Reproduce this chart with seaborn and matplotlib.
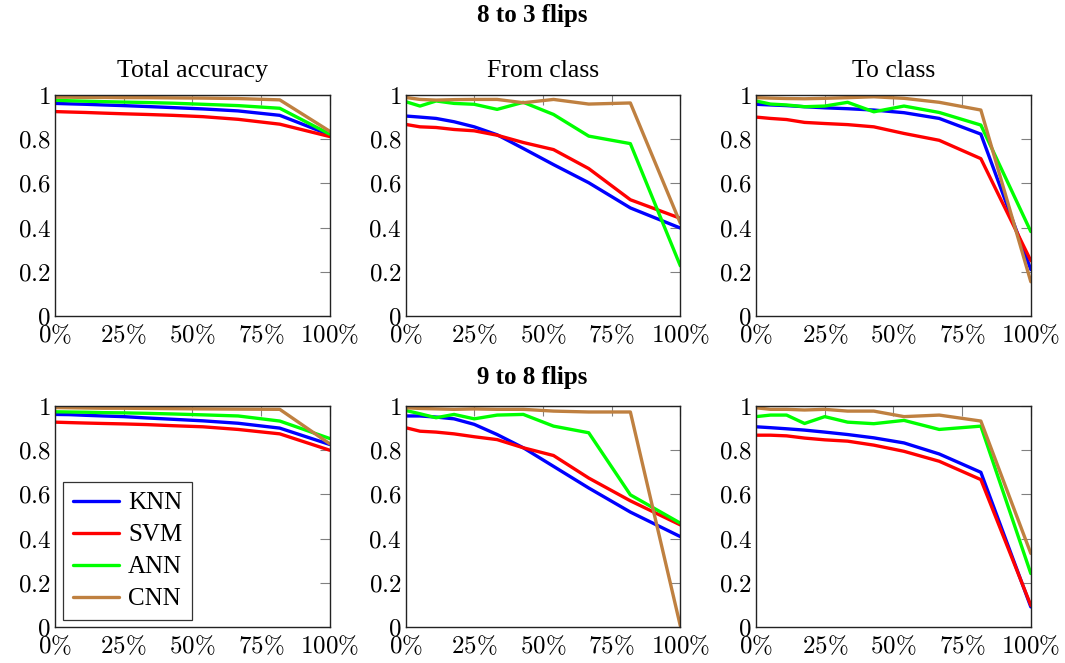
import pandas as pd
import matplotlib
matplotlib.use("Agg")
import matplotlib.pyplot as plt
import seaborn as sns

# fraction of flipped samples (percent)
flip_pct = [0, 5.26, 11.11, 17.65, 25, 33.33, 42.86, 53.85, 66.67, 81.82, 100]
models = ["KNN", "SVM", "ANN", "CNN"]

# 8 to 3 flips
total_83 = {
    "KNN": [0.962, 0.960, 0.958, 0.955, 0.952, 0.948, 0.943, 0.937, 0.928, 0.908, 0.820],
    "SVM": [0.925, 0.923, 0.921, 0.918, 0.915, 0.912, 0.908, 0.902, 0.890, 0.868, 0.812],
    "ANN": [0.976, 0.974, 0.972, 0.970, 0.968, 0.966, 0.963, 0.958, 0.952, 0.940, 0.823],
    "CNN": [0.990, 0.990, 0.989, 0.989, 0.988, 0.988, 0.987, 0.986, 0.984, 0.978, 0.836],
}
from_83 = {
    "KNN": [0.905, 0.900, 0.894, 0.879, 0.856, 0.820, 0.758, 0.685, 0.603, 0.489, 0.398],
    "SVM": [0.867, 0.856, 0.853, 0.844, 0.838, 0.818, 0.785, 0.753, 0.667, 0.526, 0.442],
    "ANN": [0.970, 0.950, 0.973, 0.962, 0.958, 0.935, 0.967, 0.912, 0.814, 0.780, 0.227],
    "CNN": [0.989, 0.980, 0.977, 0.979, 0.980, 0.980, 0.965, 0.980, 0.959, 0.964, 0.420],
}
to_83 = {
    "KNN": [0.958, 0.955, 0.952, 0.947, 0.942, 0.938, 0.932, 0.920, 0.894, 0.823, 0.210],
    "SVM": [0.900, 0.894, 0.889, 0.876, 0.871, 0.866, 0.856, 0.826, 0.795, 0.712, 0.250],
    "ANN": [0.973, 0.959, 0.955, 0.947, 0.950, 0.967, 0.924, 0.950, 0.921, 0.864, 0.382],
    "CNN": [0.988, 0.986, 0.984, 0.983, 0.985, 0.988, 0.992, 0.985, 0.967, 0.932, 0.155],
}

# 9 to 8 flips
total_98 = {
    "KNN": [0.962, 0.961, 0.958, 0.955, 0.952, 0.946, 0.940, 0.933, 0.922, 0.900, 0.826],
    "SVM": [0.927, 0.925, 0.923, 0.921, 0.919, 0.916, 0.911, 0.906, 0.894, 0.874, 0.800],
    "ANN": [0.974, 0.973, 0.972, 0.970, 0.969, 0.967, 0.964, 0.960, 0.955, 0.932, 0.853],
    "CNN": [0.993, 0.992, 0.991, 0.990, 0.990, 0.989, 0.988, 0.987, 0.986, 0.985, 0.829],
}
from_98 = {
    "KNN": [0.955, 0.955, 0.950, 0.942, 0.917, 0.871, 0.811, 0.727, 0.629, 0.520, 0.409],
    "SVM": [0.902, 0.886, 0.882, 0.874, 0.861, 0.848, 0.811, 0.776, 0.674, 0.571, 0.462],
    "ANN": [0.980, 0.965, 0.947, 0.962, 0.942, 0.959, 0.962, 0.909, 0.879, 0.598, 0.470],
    "CNN": [0.992, 0.989, 0.987, 0.985, 0.987, 0.985, 0.985, 0.977, 0.973, 0.973, 0.005],
}
to_98 = {
    "KNN": [0.906, 0.902, 0.897, 0.891, 0.882, 0.871, 0.856, 0.833, 0.783, 0.700, 0.091],
    "SVM": [0.868, 0.868, 0.865, 0.855, 0.847, 0.841, 0.823, 0.795, 0.750, 0.667, 0.098],
    "ANN": [0.952, 0.959, 0.959, 0.921, 0.952, 0.927, 0.920, 0.935, 0.894, 0.909, 0.242],
    "CNN": [0.992, 0.985, 0.985, 0.982, 0.985, 0.977, 0.977, 0.952, 0.959, 0.932, 0.333],
}

panels = [
    [("Total accuracy", total_83), ("From class", from_83), ("To class", to_83)],
    [("", total_98), ("", from_98), ("", to_98)],
]
row_titles = ["8 to 3 flips", "9 to 8 flips"]
x_ticks = [0, 25, 50, 75, 100]
x_labels = [r"$0\%$", r"$25\%$", r"$50\%$", r"$75\%$", r"$100\%$"]
y_ticks = [0, 0.2, 0.4, 0.6, 0.8, 1]
y_labels = [r"$0$", r"$0.2$", r"$0.4$", r"$0.6$", r"$0.8$", r"$1$"]
palette = {"KNN": "#0000FF", "SVM": "#FF0000", "ANN": "#00FF00", "CNN": "#BF8040"}

sns.set_style("white")
plt.rcParams["font.family"] = ["Liberation Serif", "DejaVu Serif"]
plt.rcParams["mathtext.fontset"] = "cm"
plt.rcParams["text.color"] = "black"
plt.rcParams["xtick.color"] = "black"
plt.rcParams["ytick.color"] = "black"

fig = plt.figure(figsize=(10.65, 6.63), dpi=100)

lefts = [0.0516, 0.3808, 0.7099]
bottoms = [0.5234, 0.0543]
w, h = 0.258, 0.3333

for r, row in enumerate(panels):
    for c, (title, data) in enumerate(row):
        ax = fig.add_axes([lefts[c], bottoms[r], w, h])
        df = pd.DataFrame(
            [(x, m, v) for m in models for x, v in zip(flip_pct, data[m])],
            columns=["flip", "model", "acc"],
        )
        sns.lineplot(data=df, x="flip", y="acc", hue="model", hue_order=models,
                     palette=palette, linewidth=2.4, ax=ax,
                     legend=(r == 1 and c == 0))
        ax.set_xlim(0, 100)
        ax.set_ylim(0, 1)
        ax.set_xticks(x_ticks)
        ax.set_xticklabels(x_labels)
        ax.set_yticks(y_ticks)
        ax.set_yticklabels(y_labels)
        ax.set_xlabel("")
        ax.set_ylabel("")
        ax.tick_params(direction="in", length=7, width=0.8, color="#808080",
                       labelcolor="black", top=True, right=True, labelsize=18)
        ax.tick_params(axis="x", pad=5)
        ax.tick_params(axis="y", pad=3)
        for s in ax.spines.values():
            s.set_color("#222222")
            s.set_linewidth(1.0)
        if title:
            ax.set_title(title, fontsize=18.5, pad=13)
        if r == 1 and c == 0:
            leg = ax.legend(loc="lower left", fontsize=18, frameon=True,
                            fancybox=False, edgecolor="black", handlelength=1.85,
                            handletextpad=0.35, borderpad=0.4, labelspacing=0.38,
                            borderaxespad=0, bbox_to_anchor=(0.03, 0.03))
            leg.get_frame().set_linewidth(0.9)
            for line in leg.get_lines():
                line.set_linewidth(2.4)

fig.text(0.5, 0.977, row_titles[0], ha="center", va="center",
         fontsize=18, fontweight="bold")
fig.text(0.5, 0.43, row_titles[1], ha="center", va="center",
         fontsize=18, fontweight="bold")

fig.savefig("out.png", dpi=100)
